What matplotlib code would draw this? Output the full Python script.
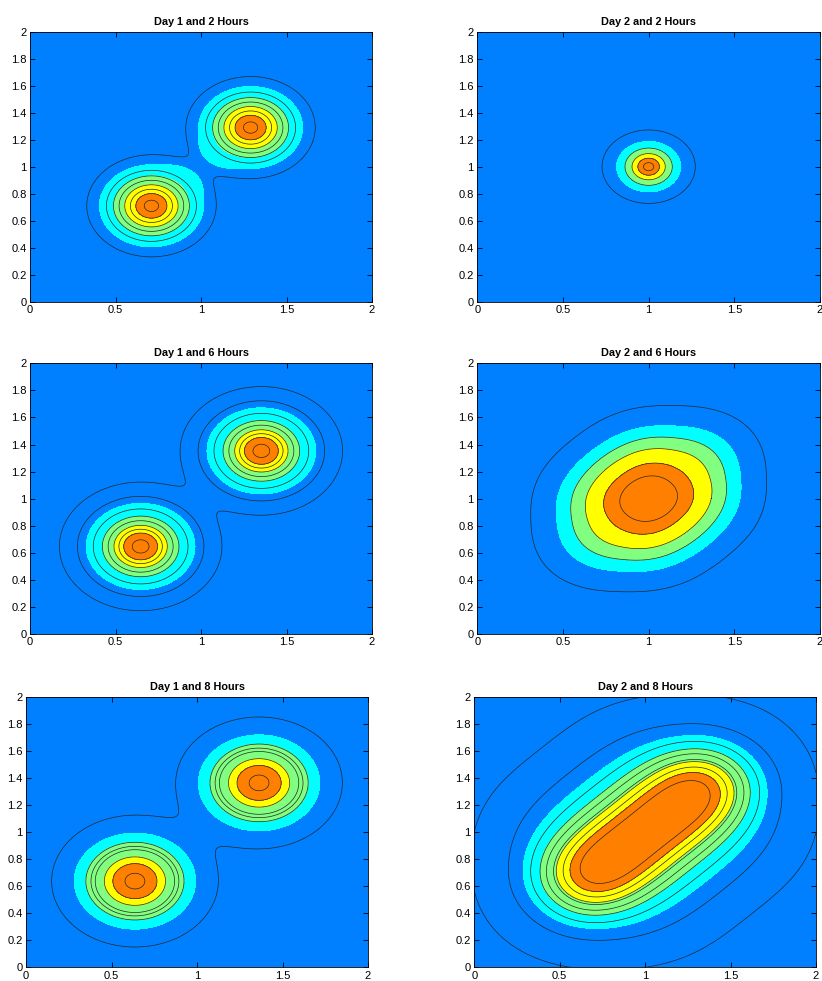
import numpy as np
import matplotlib.pyplot as plt
from matplotlib.colors import ListedColormap, BoundaryNorm

plt.rcParams['font.family'] = ['Liberation Sans', 'DejaVu Sans']

# panel titles, row by row
titles = ["Day 1 and 2 Hours", "Day 2 and 2 Hours",
          "Day 1 and 6 Hours", "Day 2 and 6 Hours",
          "Day 1 and 8 Hours", "Day 2 and 8 Hours"]

# colour bands, low to high
band_colors = ["#0080FF", "#00FFFF", "#80FF80", "#FFFF00", "#FF8000"]

# blobs making each field: (cx, cy, su, sv, angle deg, pu, pv, amplitude)
blobs_d1h2 = [(0.71, 0.71, 0.236, 0.236, 0, 2, 2, 1.0), (1.29, 1.29, 0.236, 0.236, 0, 2, 2, 1.0)]
blobs_d2h2 = [(1.0, 1.0, 0.147, 0.147, 0, 2, 2, 1.0)]
blobs_d1h6 = [(0.647, 0.647, 0.25, 0.25, 0, 2, 2, 1.0), (1.353, 1.353, 0.25, 0.25, 0, 2, 2, 1.0)]
blobs_d2h6 = [(0.85, 0.85, 0.48, 0.48, 0, 2.5, 2.5, 1.0), (1.15, 1.15, 0.48, 0.48, 0, 2.5, 2.5, 1.0)]
blobs_d1h8 = [(0.637, 0.637, 0.28, 0.28, 0, 2, 2, 1.0), (1.363, 1.363, 0.28, 0.28, 0, 2, 2, 1.0)]
blobs_d2h8 = [(0.785, 0.785, 0.55, 0.55, 0, 2.3, 2.3, 0.5), (1.215, 1.215, 0.55, 0.55, 0, 2.3, 2.3, 0.5),
              (0.68, 0.68, 0.27, 0.27, 0, 2, 2, 1.0), (0.89, 0.89, 0.27, 0.27, 0, 2, 2, 0.8),
              (1.11, 1.11, 0.27, 0.27, 0, 2, 2, 0.8), (1.32, 1.32, 0.27, 0.27, 0, 2, 2, 1.0)]

# soft caps that push the cyan edges towards the other blob (Day 1, 2 h);
# they only touch the fill, never the drawn lines
caps_d1h2 = [(0.88, 0.88, 0.17, 0.21, 45, 2, 2, 0.27), (1.12, 1.12, 0.17, 0.21, 45, 2, 2, 0.27)]

# points (x, y) on the cyan, green, yellow and orange edges
edges_d1h2 = [(0.71, 0.406), (0.71, 0.488), (0.71, 0.554), (0.71, 0.619)]
edges_d2h2 = [(1.187, 1.0), (1.138, 1.0), (1.097, 1.0), (1.063, 1.0)]
edges_d1h6 = [(0.647, 0.329), (0.647, 0.423), (0.647, 0.491), (0.647, 0.548)]
edges_d2h6 = [(0.467, 1.0), (0.551, 1.0), (0.635, 1.0), (0.740, 1.0)]
edges_d1h8 = [(0.282, 0.637), (0.350, 0.637), (0.458, 0.637), (0.508, 0.637)]
edges_d2h8 = [(1.28, 1.714), (1.28, 1.615), (1.28, 1.52), (1.28, 1.44)]

# points (x, y) on the black contour lines
lines_d1h2 = [(0.71, 0.332), (0.71, 0.447), (0.71, 0.488), (0.71, 0.521),
              (0.71, 0.554), (0.71, 0.587), (0.71, 0.619), (0.71, 0.668)]
lines_d2h2 = [(1.272, 1.0), (1.138, 1.0), (1.097, 1.0), (1.063, 1.0), (1.030, 1.0)]
lines_d1h6 = [(0.647, 0.172), (0.647, 0.277), (0.647, 0.370), (0.647, 0.423),
              (0.647, 0.457), (0.647, 0.491), (0.647, 0.520), (0.647, 0.548),
              (0.647, 0.598)]
lines_d2h6 = [(0.318, 1.0), (0.551, 1.0), (0.635, 1.0), (0.740, 1.0), (0.833, 1.0)]
lines_d1h8 = [(0.150, 0.637), (0.350, 0.637), (0.380, 0.637), (0.405, 0.637),
              (0.458, 0.637), (0.508, 0.637), (0.579, 0.637)]
lines_d2h8 = [(0.0, 1.0), (1.24, 1.80), (1.28, 1.67), (1.28, 1.615), (1.28, 1.578),
              (1.28, 1.536), (1.28, 1.52), (1.28, 1.48), (1.28, 1.44), (1.28, 1.38)]

all_blobs = [blobs_d1h2, blobs_d2h2, blobs_d1h6, blobs_d2h6, blobs_d1h8, blobs_d2h8]
all_caps = [caps_d1h2, [], [], [], [], []]
all_edges = [edges_d1h2, edges_d2h2, edges_d1h6, edges_d2h6, edges_d1h8, edges_d2h8]
all_lines = [lines_d1h2, lines_d2h2, lines_d1h6, lines_d2h6, lines_d1h8, lines_d2h8]

# axes boxes in pixels (left, top, right, bottom) of the 822x981 figure
boxes = [(30, 31.7, 372, 301.7), (477.3, 31.7, 820, 301.7),
         (30, 363.3, 372, 634), (477.3, 363.3, 820, 634),
         (26, 696.7, 368, 967.3), (474.3, 696.7, 816, 967.3)]


def blob_sum(blobs, X, Y):
    X = np.asarray(X, dtype=float)
    Y = np.asarray(Y, dtype=float)
    Z = np.zeros_like(X)
    for cx, cy, su, sv, ang, pu, pv, amp in blobs:
        t = np.radians(ang)
        dx, dy = X - cx, Y - cy
        u = dx * np.cos(t) + dy * np.sin(t)
        v = -dx * np.sin(t) + dy * np.cos(t)
        Z += amp * np.exp(-(np.abs(u / su) ** pu + np.abs(v / sv) ** pv))
    return Z


def at_points(blobs, pts):
    pts = np.asarray(pts)
    return blob_sum(blobs, pts[:, 0], pts[:, 1])


x = np.linspace(0, 2, 401)
X, Y = np.meshgrid(x, x)
cmap = ListedColormap(band_colors)

fig = plt.figure(figsize=(8.22, 9.81), dpi=100)
W, H = 822.0, 981.0

for i in range(6):
    l, t, r, b = boxes[i]
    ax = fig.add_axes([l / W, 1 - b / H, (r - l) / W, (b - t) / H])
    Z = blob_sum(all_blobs[i], X, Y)
    # soft maximum with each cap, so the cyan edge bends smoothly
    Zfill = Z ** 4
    for cap in all_caps[i]:
        Zfill = Zfill + blob_sum([cap], X, Y) ** 4
    Zfill = Zfill ** 0.25
    edge_lv = np.sort(at_points(all_blobs[i], all_edges[i]))
    line_lv = np.unique(at_points(all_blobs[i], all_lines[i]))
    bounds = np.concatenate([[Z.min() - 1], edge_lv, [Zfill.max() + 1]])
    ax.contourf(X, Y, Zfill, levels=bounds, cmap=cmap,
                norm=BoundaryNorm(bounds, cmap.N), antialiased=False)
    ax.contour(X, Y, Z, levels=line_lv, colors="#262626", linewidths=0.5)
    ax.set_xlim(0, 2)
    ax.set_ylim(0, 2)
    ax.set_xticks([0, 0.5, 1, 1.5, 2])
    ax.set_xticklabels(["0", "0.5", "1", "1.5", "2"])
    ax.set_yticks(np.arange(0, 2.01, 0.2))
    ax.set_yticklabels(["0", "0.2", "0.4", "0.6", "0.8", "1", "1.2", "1.4", "1.6", "1.8", "2"])
    ax.tick_params(direction="in", length=3.5, width=0.6, labelsize=8, pad=2.5,
                   top=True, right=True)
    for s in ax.spines.values():
        s.set_linewidth(0.6)
    ax.set_title(titles[i], fontsize=7.8, fontweight="bold", pad=5)

fig.savefig("out.png", dpi=100)
